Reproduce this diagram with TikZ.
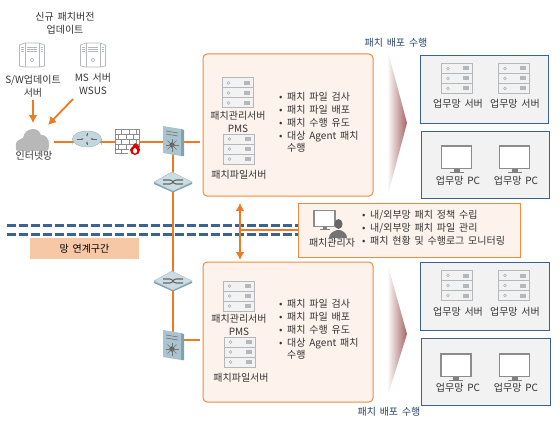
\documentclass[tikz,border=0pt]{standalone}
\usepackage{fontspec}
\setmainfont[WordSpace=1.7]{Noto Sans CJK KR}
\usetikzlibrary{arrows.meta,shapes.symbols}
\definecolor{linkorange}{HTML}{EE7A22}
\definecolor{panelfill}{HTML}{FDF3EC}
\definecolor{panelline}{HTML}{F08A3C}
\definecolor{zoneblue}{HTML}{3A6394}
\definecolor{grayfill}{HTML}{F2F2F2}
\definecolor{bandfill}{HTML}{F6C8A5}
\definecolor{textgray}{HTML}{333333}
\definecolor{iconline}{HTML}{B4B8BB}
\definecolor{steel}{HTML}{A9C4CE}
\definecolor{steeldark}{HTML}{7FA0AD}
\newcommand{\bl}[1]{\makebox[8pt][l]{•}#1}
\tikzset{
  spot/.style={inner sep=0, minimum size=2pt},
  lbl/.style={align=center, inner sep=0, text=textgray, font=\fontsize{10}{13}\selectfont},
  listtext/.style={align=left, anchor=north west, inner sep=0, text=textgray, font=\fontsize{10}{12.7}\selectfont},
  deploy/.style={inner sep=0, text=zoneblue!70!black, font=\fontsize{10}{13}\selectfont},
  panel/.style={draw=panelline, fill=panelfill, line width=1pt, rounded corners=4pt, inner sep=0},
  adminpanel/.style={draw=panelline, fill=panelfill, line width=1pt, inner sep=0},
  zonebox/.style={draw=zoneblue, fill=grayfill, line width=1pt, inner sep=0},
  link/.style={draw=linkorange, line width=2pt},
  pointer/.style={draw=linkorange, line width=1.8pt, -{Latex[length=8pt,width=9pt]}},
  zone/.style={draw=zoneblue, line width=3pt, dash pattern=on 9pt off 3pt},
  rackicon/.pic={
    \draw[iconline, line width=1pt, fill=grayfill] (-15.5,-15) rectangle (15.5,15);
    \draw[iconline, line width=1pt] (-15.5,-5) -- (15.5,-5) (-15.5,5) -- (15.5,5);
    \foreach \rowy in {-10,0,10} {
      \draw[iconline, fill=white, line width=.6pt] (-9,\rowy) circle (1.4);
      \fill[iconline] (6,\rowy-2) rectangle (12,\rowy+2);
    }
  },
  towericon/.pic={
    \draw[iconline, fill=white, line width=.7pt] (-12.5,-10) -- (-7,-12) -- (7,-12) -- (12.5,-10) -- (12.5,11) -- (7,12) -- (-7,12) -- (-12.5,11) -- cycle;
    \draw[iconline, line width=.7pt] (-7,-12) -- (-7,12) (7,-12) -- (7,12);
    \foreach \rowy in {-8,-6,-4} {
      \draw[iconline, line width=.6pt] (-11,\rowy) -- (-8.5,\rowy) (8.5,\rowy) -- (11,\rowy) (-5,\rowy) -- (5,\rowy);
    }
    \draw[iconline, line width=.7pt] (0,5) circle (1.8);
  },
  screenicon/.pic={
    \draw[black!45, line width=1.6pt, fill=white] (-15,-12.5) rectangle (15,10);
    \fill[black!50] (-3,10) rectangle (3,13.5);
    \fill[black!50] (-7,13) rectangle (7,14.5);
  },
  cloudicon/.pic={
    \fill[black!28] (-15,13) to[out=180,in=270] (-17,6) to[out=90,in=210] (-10,0) to[out=80,in=180] (0,-9)
      to[out=0,in=110] (8,-3) to[out=10,in=90] (16,6) to[out=270,in=0] (13,13) -- cycle;
  },
  routericon/.pic={
    \fill[steeldark] (-14.5,-3) -- (-14.5,3) arc[start angle=180, end angle=360, x radius=14.5, y radius=8] -- (14.5,-3) -- cycle;
    \draw[steeldark!80, fill=steel!70] (0,-3) ellipse (14.5 and 8);
    \draw[black!60, line width=1pt, -{Latex[length=2.5pt]}] (-10,-3) -- (-3,-3);
    \draw[black!60, line width=1pt, -{Latex[length=2.5pt]}] (10,-3) -- (3,-3);
    \draw[black!60, line width=1pt, -{Latex[length=2.5pt]}] (0,-9) -- (0,-5);
    \draw[black!60, line width=1pt, -{Latex[length=2.5pt]}] (0,3) -- (0,-1);
  },
  firewallicon/.pic={
    \draw[black!45, fill=white, line width=.7pt] (-12,-12) rectangle (12,12);
    \foreach \rowy in {-7,-2,3,8} {\draw[black!45, line width=.6pt] (-12,\rowy) -- (12,\rowy);}
    \foreach \colx in {-6,2,9} {\draw[black!45, line width=.6pt] (\colx,-12) -- (\colx,-7) (\colx,-2) -- (\colx,3) (\colx,8) -- (\colx,12);}
    \foreach \colx in {-9,-1,6} {\draw[black!45, line width=.6pt] (\colx,-7) -- (\colx,-2) (\colx,3) -- (\colx,8);}
    \fill[white] (8,12) circle (7);
    \fill[red!85!black] (8,2) to[out=-20,in=90] (13,9) to[out=270,in=0] (8,14) to[out=180,in=270] (3,9) to[out=90,in=240] (6,5) -- (8,2);
    \fill[white] (8,7) to[out=-20,in=90] (10,10) to[out=270,in=0] (8,12.5) to[out=180,in=270] (6,10) to[out=90,in=200] (8,7);
  },
  ipsicon/.pic={
    \fill[steeldark] (8,-12) -- (11,-11) -- (11,15) -- (8,15) -- cycle;
    \fill[steel] (-10,-15) -- (8,-12) -- (8,15) -- (-10,12) -- cycle;
    \draw[black!55, line width=.6pt] (-7,-10) -- (5,-8) (-7,-7) -- (5,-5);
    \fill[black!70] (-1,4) circle (2.6);
    \foreach \spoke in {0,45,...,315} {\draw[black!55, line width=.4pt] (-1,4) -- ++(\spoke:6.5);}
  },
  switchicon/.pic={
    \fill[steeldark] (-19,1) -- (0,10) -- (19,1) -- (19,3) -- (0,11.5) -- (-19,3) -- cycle;
    \draw[steeldark!70, fill=steel!60] (-19,1) -- (-1,-9) -- (19,1) -- (0,10) -- cycle;
    \draw[black!60, line width=1.1pt] (-10,-1) -- (-3,-1) to[out=0,in=180] (3,3) -- (10,3);
    \draw[black!60, line width=1.1pt] (-10,3) -- (-3,3) to[out=0,in=180] (3,-1) -- (10,-1);
  },
  adminscreen/.pic={
    \draw[black!45, line width=1.2pt, fill=white] (-10.5,-9) rectangle (10.5,7);
    \fill[black!50] (-2,7) rectangle (2,10);
    \fill[black!50] (-5,9.5) rectangle (5,10.5);
  },
  adminicon/.pic={
    \fill[black!55] (-8,13) to[out=90,in=200] (0,5) -- (3,5) to[out=-20,in=90] (10,13) -- cycle;
    \fill[black!60] (1.5,-1) ellipse (4 and 5);
  }
}
\begin{document}
\begin{tikzpicture}[x=1pt,y=-1pt]
\useasboundingbox (0,0) rectangle (560,428);
% spots for the network icons
\node[spot] (cloudnet) at (33,142) {};
\node[spot] (router) at (87,142) {};
\node[spot] (firewall) at (127,142) {};
\node[spot] (ipsa) at (173,142) {};
\node[spot] (switcha) at (173,181) {};
\node[spot] (switchb) at (173,280) {};
\node[spot] (ipsb) at (173,340) {};
\coordinate (zonea) at (7,225);
\coordinate (zoneb) at (7,234);
\coordinate (arrtop) at (240,203);
\coordinate (arrmid) at (240,230);
\coordinate (arrbot) at (240,260);
\coordinate (swsource) at (33,100);
\coordinate (swtarget) at (33,123);
\coordinate (mssource) at (73,99);
\coordinate (mstarget) at (48,125);
% panels
\node[panel, minimum width=170pt, minimum height=142pt] (panela) at (288,125) {};
\node[panel, minimum width=170pt, minimum height=140pt] (panelb) at (288,332) {};
\node[adminpanel, minimum width=222pt, minimum height=54pt] (adminbox) at (409,230) {};
\node[zonebox, minimum width=128pt, minimum height=67pt] (servera) at (484,89.5) {};
\node[zonebox, minimum width=128pt, minimum height=67pt] (pca) at (485,164.5) {};
\node[zonebox, minimum width=129pt, minimum height=68pt] (serverb) at (484.5,296) {};
\node[zonebox, minimum width=129pt, minimum height=67pt] (pcb) at (485.5,371.5) {};
% fading chevrons
\shade[left color=white, middle color=red!25!black!10, right color=red!40!black!60] (387,48) -- (407,123) -- (387,198) -- cycle;
\shade[left color=white, middle color=red!25!black!10, right color=red!40!black!60] (387,262) -- (407,334) -- (387,398) -- cycle;
% zone
\draw[zone] (zonea) -- (adminbox.west|-zonea);
\draw[zone] (zoneb) -- (adminbox.west|-zoneb);
\node[fill=bandfill, inner sep=0, minimum width=109pt, minimum height=21pt, text=black, font=\fontsize{10}{13}\selectfont] (zonelabel) at (84.5,248.5) {망 연계구간};
% connectors
\draw[link, shorten >=3pt] (cloudnet) -- (router) -- (firewall) -- (ipsa) -- (panela.west|-ipsa);
\draw[link] (ipsa) -- (switcha) -- (switchb) -- (ipsb);
\draw[link, shorten >=3pt] (ipsb) -- (panelb.west|-ipsb);
\draw[link] (arrmid) -- (adminbox.west|-arrmid);
\draw[link, {Latex[length=8pt,width=9pt]}-{Latex[length=8pt,width=9pt]}] (arrtop) -- (arrbot);
\draw[pointer] (swsource) -- (swtarget);
\draw[pointer] (mssource) -- (mstarget);
% icons on the line
\fill[white] (16,126) rectangle (54,152);
\pic at (33,138) {cloudicon};
\pic at (87,142) {routericon};
\pic at (127,141) {firewallicon};
\pic at (173,141) {ipsicon};
\pic at (173,181) {switchicon};
\pic at (173,280) {switchicon};
\pic at (173,345) {ipsicon};
% update servers
\node[lbl] (newpatch) at (65,23.5) {신규 패치버전\\업데이트};
\pic at (32,55) {towericon};
\pic at (93,55) {towericon};
\node[lbl] (swlabel) at (33,86) {S/W업데이트\\서버};
\node[lbl] (mslabel) at (93,83.5) {MS 서버\\WSUS};
\node[lbl] (netlabel) at (34,156) {인터넷망};
% upper panel
\pic at (237.5,93) {rackicon};
\node[lbl] (pmsa) at (238,121.5) {패치관리서버\\PMS};
\pic at (238.5,149) {rackicon};
\node[lbl] (filea) at (239,175) {패치파일서버};
\node[listtext] (lista) at (279,92.5) {\bl{패치 파일 검사}\\\bl{패치 파일 배포}\\\bl{패치 수행 유도}\\\bl{대상 Agent 패치}\\\hspace*{8pt}수행};
% lower panel
\pic at (238.5,296) {rackicon};
\node[lbl] (pmsb) at (239,324.5) {패치관리서버\\PMS};
\pic at (239.5,352) {rackicon};
\node[lbl] (fileb) at (241,378) {패치파일서버};
\node[listtext] (listb) at (279,299.5) {\bl{패치 파일 검사}\\\bl{패치 파일 배포}\\\bl{패치 수행 유도}\\\bl{대상 Agent 패치}\\\hspace*{8pt}수행};
% admin
\pic at (324.5,219.5) {adminscreen};
\pic at (337,225) {adminicon};
\node[lbl] (adminlabel) at (332,243) {패치관리자};
\node[listtext] (adminlist) at (362,210.5) {\bl{내/외부망 패치 정책 수립}\\\bl{내/외부망 패치 파일 관리}\\\bl{패치 현황 및 수행로그 모니터링}};
% business network
\pic at (457,78.5) {rackicon};
\pic at (514,78.5) {rackicon};
\node[lbl] (srvone) at (458,104) {업무망 서버};
\node[lbl] (srvtwo) at (515,104) {업무망 서버};
\pic at (456.5,158.5) {screenicon};
\pic at (514.5,158.5) {screenicon};
\node[lbl] (pcone) at (458,181) {업무망 PC};
\node[lbl] (pctwo) at (516,181) {업무망 PC};
\pic at (457,285.5) {rackicon};
\pic at (514,285.5) {rackicon};
\node[lbl] (srvthree) at (458,312) {업무망 서버};
\node[lbl] (srvfour) at (515,312) {업무망 서버};
\pic at (456,366.5) {screenicon};
\pic at (514.5,366.5) {screenicon};
\node[lbl] (pcthree) at (458,388) {업무망 PC};
\node[lbl] (pcfour) at (516,388) {업무망 PC};
% titles
\node[deploy] (deploya) at (396,43) {패치 배포 수행};
\node[deploy] (deployb) at (389,412) {패치 배포 수행};
\end{tikzpicture}
\end{document}
